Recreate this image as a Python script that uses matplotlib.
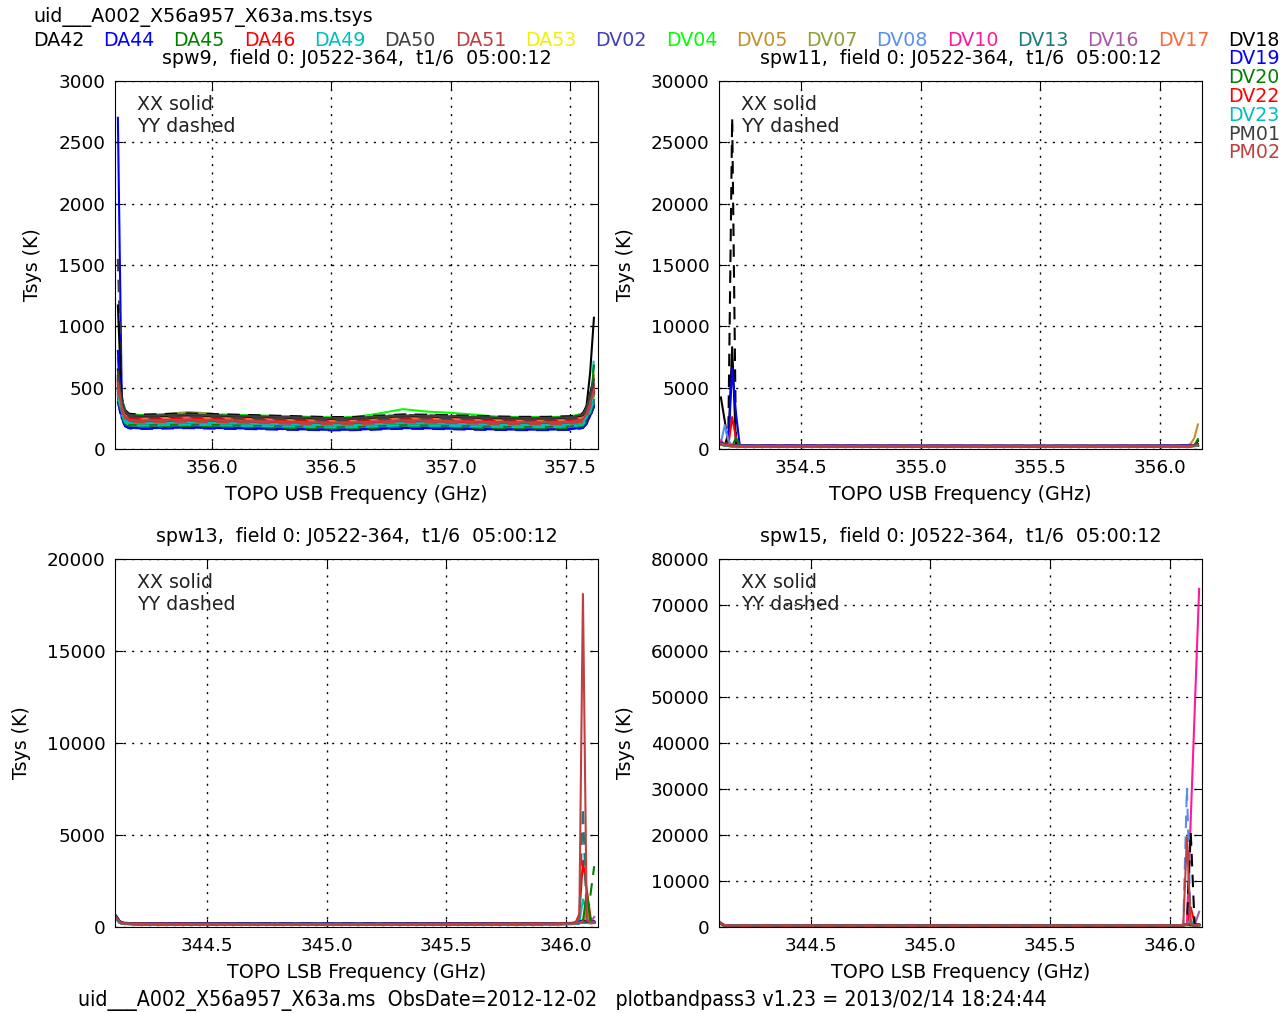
import matplotlib
matplotlib.use('Agg')
import matplotlib.pyplot as plt
from matplotlib.ticker import FormatStrFormatter, MultipleLocator

plt.rcParams['font.family'] = ['DejaVu Sans']

# ---------------- data ----------------
ANTENNAS = ['DA42', 'DA44', 'DA45', 'DA46', 'DA49', 'DA50', 'DA51', 'DA53',
            'DV02', 'DV04', 'DV05', 'DV07', 'DV08', 'DV10', 'DV13', 'DV16',
            'DV17', 'DV18', 'DV19', 'DV20', 'DV22', 'DV23', 'PM01', 'PM02']

OVERLAY_COLORS = [
    (0.00, 0.00, 0.00), (0.00, 0.00, 1.00), (0.00, 0.50, 0.00), (1.00, 0.00, 0.00),
    (0.00, 0.75, 0.75), (0.25, 0.25, 0.25), (0.75, 0.25, 0.25), (0.95, 0.95, 0.00),
    (0.25, 0.25, 0.75), (0.00, 1.00, 0.00), (0.76, 0.57, 0.17), (0.54, 0.63, 0.22),
    (0.34, 0.57, 0.92), (1.00, 0.10, 0.60), (0.10, 0.49, 0.47), (0.66, 0.34, 0.65),
    (0.99, 0.41, 0.23)]

# spw9 (USB)
F9 = [355.606, 355.622, 355.637, 355.653, 355.70, 355.80, 355.90, 356.00, 356.10,
      356.20, 356.30, 356.40, 356.50, 356.60, 356.70, 356.80, 356.90, 357.00, 357.10,
      357.20, 357.30, 357.40, 357.50, 357.552, 357.568, 357.583, 357.599]
B9 = [520, 330, 250, 228, 222, 226, 230, 226, 222, 218, 214, 210, 206, 208, 216, 224,
      222, 218, 214, 210, 208, 208, 212, 230, 275, 355, 465]
S9_XX = [1.10, 0.78, 0.95, 1.05, 1.00, 1.15, 1.08, 0.90, 0.86, 1.25, 0.92, 1.02,
         0.98, 1.06, 0.83, 0.96, 1.12, 1.20, 0.76, 0.90, 1.00, 0.94, 1.22, 1.04]
S9_YY = [1.05, 0.74, 0.82, 1.12, 0.86, 1.24, 1.02, 0.79, 0.93, 1.15, 0.84, 1.08,
         0.90, 1.00, 0.88, 0.99, 1.10, 1.26, 0.75, 0.81, 1.09, 0.86, 1.15, 0.97]
SPIKES9 = {
    ('DA44', 'XX'): {0: 2700, 1: 450},
    ('DA50', 'YY'): {0: 1550, 1: 420},
    ('DV18', 'XX'): {0: 1170, 24: 350, 25: 620, 26: 1070},
    ('DV19', 'XX'): {0: 800},
    ('DA49', 'XX'): {0: 740},
    ('DA49', 'YY'): {26: 750},
    ('DV20', 'XX'): {26: 680},
    ('DV05', 'XX'): {26: 600},
    ('DV04', 'XX'): {14: 290, 15: 325, 16: 305, 17: 295, 18: 280},
    ('DV07', 'XX'): {5: 285, 6: 300, 7: 290},
}

# spw11 (USB)
F11 = [354.165, 354.181, 354.196, 354.212, 354.228, 354.243, 354.259, 354.30, 354.50,
       354.70, 354.90, 355.10, 355.30, 355.50, 355.70, 355.90, 356.05, 356.112,
       356.127, 356.143, 356.158]
B11 = [420, 340, 290, 260, 245, 240, 238, 236, 234, 232, 230, 228, 226, 225, 226,
       228, 232, 240, 255, 280, 320]
S11_XX = [1.00, 0.85, 1.10, 0.95, 1.20, 0.90, 1.05, 0.80, 1.15, 0.92, 1.30, 0.88,
          1.02, 0.97, 1.08, 0.83, 1.12, 0.94, 1.18, 0.87, 1.04, 0.91, 1.06, 0.99]
S11_YY = [0.95, 0.90, 1.05, 1.00, 1.15, 0.86, 1.10, 0.84, 1.08, 0.96, 1.22, 0.92,
          0.98, 1.01, 1.04, 0.88, 1.09, 0.97, 1.12, 0.90, 1.00, 0.94, 1.03, 1.02]
SPIKES11 = {
    ('DA42', 'XX'): {0: 4200, 1: 2300, 2: 450, 3: 8300, 4: 350, 20: 650},
    ('DA42', 'YY'): {2: 1200, 3: 27000},
    ('DA44', 'XX'): {3: 6600, 4: 2900, 5: 400},
    ('DV08', 'XX'): {0: 500, 1: 1950, 2: 700},
    ('DA46', 'XX'): {3: 2600, 4: 900},
    ('DV10', 'XX'): {0: 700},
    ('DV20', 'XX'): {4: 900},
    ('DV05', 'XX'): {18: 400, 19: 900, 20: 2000},
    ('DA45', 'XX'): {20: 800},
}

# spw13 (LSB)
F13 = [344.118, 344.134, 344.149, 344.20, 344.40, 344.60, 344.80, 345.00, 345.20,
       345.40, 345.60, 345.80, 345.95, 346.025, 346.040, 346.056, 346.071, 346.087,
       346.103, 346.118]
B13 = [520, 260, 190, 170, 165, 160, 158, 156, 158, 162, 166, 170, 175, 185, 200,
       240, 300, 260, 240, 250]
S13_XX = [1.05, 0.90, 1.00, 1.10, 0.95, 1.20, 0.85, 1.02, 0.92, 1.15, 0.88, 1.07,
          0.97, 1.00, 1.12, 0.93, 1.04, 0.89, 1.18, 0.96, 1.01, 0.87, 1.09, 1.03]
S13_YY = [1.00, 0.94, 1.06, 1.02, 0.90, 1.16, 0.88, 0.98, 0.95, 1.10, 0.91, 1.04,
          1.00, 0.96, 1.08, 0.90, 1.06, 0.92, 1.14, 0.98, 1.03, 0.89, 1.05, 1.00]
SPIKES13 = {
    ('PM02', 'XX'): {15: 600, 16: 18100, 17: 400},
    ('DV13', 'YY'): {15: 500, 16: 6500, 17: 300},
    ('DA46', 'XX'): {15: 700, 16: 3600, 17: 2000, 18: 500},
    ('DA45', 'YY'): {17: 300, 18: 1800, 19: 3300},
    ('DV16', 'XX'): {19: 550},
    ('DV05', 'XX'): {17: 1000},
    ('DA49', 'XX'): {16: 1500, 17: 800},
    ('DV20', 'XX'): {17: 1900},
}

# spw15 (LSB)
F15 = [344.118, 344.134, 344.149, 344.20, 344.40, 344.60, 344.80, 345.00, 345.20,
       345.40, 345.60, 345.80, 345.95, 346.025, 346.040, 346.056, 346.071, 346.087,
       346.103, 346.122]
B15 = [1100, 450, 320, 300, 290, 285, 280, 278, 280, 285, 290, 300, 310, 330, 360,
       420, 500, 450, 420, 450]
S15_XX = [1.02, 0.88, 1.10, 0.95, 1.05, 0.92, 1.15, 0.85, 1.00, 1.08, 0.90, 1.12,
          0.97, 1.03, 0.94, 1.06, 0.89, 1.01, 1.09, 0.93, 0.99, 1.04, 0.91, 1.07]
S15_YY = [0.98, 0.92, 1.04, 1.00, 1.08, 0.95, 1.10, 0.88, 1.02, 1.05, 0.93, 1.08,
          1.00, 0.97, 0.96, 1.03, 0.92, 1.05, 1.06, 0.95, 1.01, 1.00, 0.94, 1.02]
SPIKES15 = {
    ('DV10', 'XX'): {17: None, 18: None, 19: 73500},
    ('DV08', 'YY'): {15: 400, 16: 30400, 17: 500},
    ('PM02', 'XX'): {16: 19500, 17: 600},
    ('DV18', 'YY'): {16: 500, 17: 20600, 18: 600},
    ('DA46', 'XX'): {17: 4300, 18: 800},
    ('DV16', 'XX'): {18: 400, 19: 3300},
    ('DA49', 'XX'): {17: 1500},
}

PANELS = [
    dict(spw='spw9', F=F9, B=B9, SXX=S9_XX, SYY=S9_YY, spikes=SPIKES9, sb='USB',
         xlim=(355.594, 357.616), ymax=3000, ystep=500),
    dict(spw='spw11', F=F11, B=B11, SXX=S11_XX, SYY=S11_YY, spikes=SPIKES11, sb='USB',
         xlim=(354.157, 356.175), ymax=30000, ystep=5000),
    dict(spw='spw13', F=F13, B=B13, SXX=S13_XX, SYY=S13_YY, spikes=SPIKES13, sb='LSB',
         xlim=(344.114, 346.134), ymax=20000, ystep=5000),
    dict(spw='spw15', F=F15, B=B15, SXX=S15_XX, SYY=S15_YY, spikes=SPIKES15, sb='LSB',
         xlim=(344.118, 346.134), ymax=80000, ystep=10000),
]

FONT = 13.7
TICKFONT = 13.2

fig = plt.figure(figsize=(12.83, 10.13), dpi=100)
W, H = 1283.0, 1013.0
boxes = [(115, 81), (719, 81), (115, 559), (719, 559)]
AW, AH = 483, 368

for p, (x0, y0) in zip(PANELS, boxes):
    ax = fig.add_axes([x0 / W, 1 - (y0 + AH) / H, AW / W, AH / H])
    for i, ant in enumerate(ANTENNAS):
        color = OVERLAY_COLORS[i % len(OVERLAY_COLORS)]
        for pol, scales, ls in (('XX', p['SXX'], '-'), ('YY', p['SYY'], '--')):
            vals = [b * scales[i] for b in p['B']]
            for k, v in p['spikes'].get((ant, pol), {}).items():
                vals[k] = v
            xs = [f for f, v in zip(p['F'], vals) if v is not None]
            ys = [v for v in vals if v is not None]
            ax.plot(xs, ys, ls, color=color, lw=1.5, dashes=(6, 4) if ls == '--' else (None, None))
    ax.set_xlim(*p['xlim'])
    ax.set_ylim(0, p['ymax'])
    ax.xaxis.set_major_locator(MultipleLocator(0.5))
    ax.xaxis.set_major_formatter(FormatStrFormatter('%.1f'))
    ax.yaxis.set_major_locator(MultipleLocator(p['ystep']))
    ax.grid(True, color='black', linestyle=(0, (1.5, 4.5)), lw=1)
    ax.tick_params(direction='in', top=True, right=True, length=6, labelsize=TICKFONT, pad=7)
    ax.set_title('%s,  field 0: J0522-364,  t1/6  05:00:12' % p['spw'], fontsize=FONT, pad=12)
    ax.set_xlabel('TOPO %s Frequency (GHz)' % p['sb'], fontsize=FONT, labelpad=6)
    ax.set_ylabel('Tsys (K)', fontsize=FONT, labelpad=11.5)
    ax.text(0.045, 0.961, 'XX solid\nYY dashed', transform=ax.transAxes,
            ha='left', va='top', fontsize=FONT, color='#222222', linespacing=1.2)

# antenna legend across the top and down the right side
for i, ant in enumerate(ANTENNAS):
    color = OVERLAY_COLORS[i % len(OVERLAY_COLORS)]
    if i < 18:
        x, y = 33 + 70.3 * i, 40
    else:
        x, y = 1228, 40 + 18.8 * (i - 17)
    fig.text(x / W, 1 - y / H, ant, color=color, fontsize=FONT, ha='left', va='center')

fig.text(33 / W, 1 - 17 / H, 'uid___A002_X56a957_X63a.ms.tsys', fontsize=FONT,
         ha='left', va='center')
fig.text(562 / W, 1 - 1000 / H,
         'uid___A002_X56a957_X63a.ms  ObsDate=2012-12-02   plotbandpass3 v1.23 = 2013/02/14 18:24:44',
         fontsize=15.3, ha='center', va='center', fontstretch='condensed')

fig.savefig('out.png', dpi=100)
